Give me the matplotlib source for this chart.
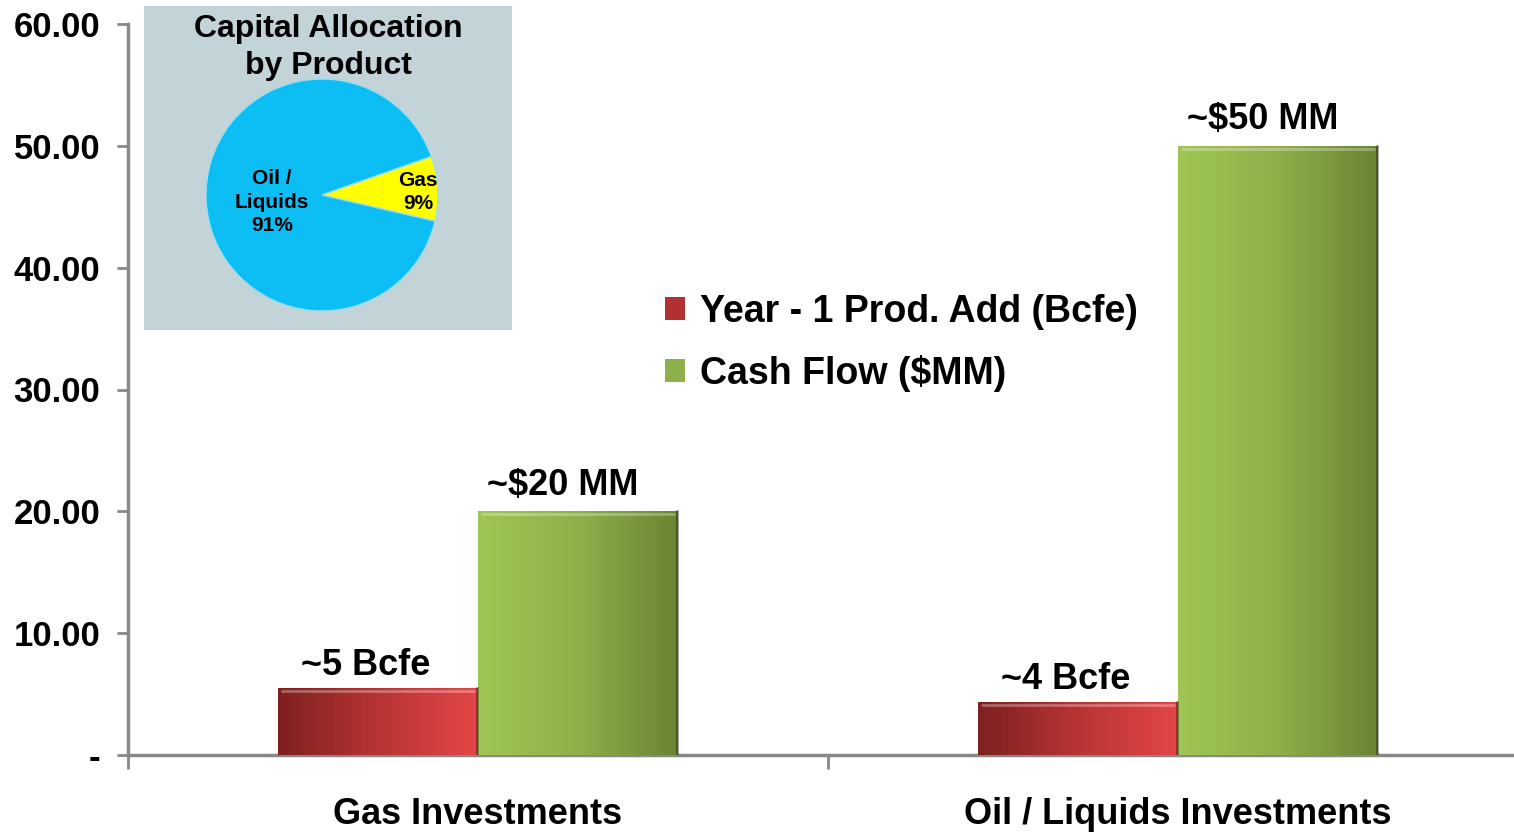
import matplotlib
matplotlib.use("Agg")
import matplotlib.pyplot as plt
import numpy as np
from matplotlib.colors import LinearSegmentedColormap
from matplotlib.patches import Patch

plt.rcParams['font.family'] = ['Liberation Sans', 'DejaVu Sans']
plt.rcParams['font.weight'] = 'bold'

# ---- data ----
categories = ["Gas Investments", "Oil / Liquids Investments"]
series_names = ["Year - 1 Prod. Add (Bcfe)", "Cash Flow ($MM)"]
prod_add = [5.5, 4.35]
cash_flow = [20.0, 50.0]
prod_labels = ["~5 Bcfe", "~4 Bcfe"]
cash_labels = ["~$20 MM", "~$50 MM"]
yticks = [0, 10, 20, 30, 40, 50, 60]
ytick_labels = ["-", "10.00", "20.00", "30.00", "40.00", "50.00", "60.00"]

pie_labels = ["Gas\n9%", "Oil /\nLiquids\n91%"]
pie_values = [9, 91]
pie_title = "Capital Allocation\nby Product"

W, H = 1514, 834
fig = plt.figure(figsize=(W / 100, H / 100), dpi=100)
fig.patch.set_facecolor('white')

ax = fig.add_axes([128 / W, (H - 755) / H, (1514 - 128) / W, (755 - 24) / H])
x = np.arange(len(categories))
bw = 0.2857
red_cmap = LinearSegmentedColormap.from_list("r", ["#7E2020", "#B83434", "#E34646"])
green_cmap = LinearSegmentedColormap.from_list("g", ["#A0C655", "#8EB04A", "#6A8432"])

b1 = ax.bar(x - bw / 2, prod_add, bw, color="#C03838", zorder=2)
b2 = ax.bar(x + bw / 2, cash_flow, bw, color="#8BAE48", zorder=2)

grad = np.linspace(0, 1, 256).reshape(1, -1)
for bars, cmap in ((b1, red_cmap), (b2, green_cmap)):
    for p in bars:
        x0, y0 = p.get_x(), p.get_y()
        w, h = p.get_width(), p.get_height()
        im = ax.imshow(grad, cmap=cmap, aspect='auto', extent=(x0, x0 + w, y0, y0 + h), zorder=3)
        im.set_clip_path(p)
        ax.plot([x0 + 0.004, x0 + w - 0.004], [y0 + h - 0.25, y0 + h - 0.25],
                color='white', alpha=0.3, lw=2, zorder=4, solid_capstyle='butt')
        ax.plot([x0 + w - 0.002, x0 + w - 0.002], [y0, y0 + h],
                color='black', alpha=0.35, lw=2, zorder=4)

for xi, v, lab in zip(x - bw / 2, prod_add, prod_labels):
    ax.text(xi - 0.017, v + 0.4, lab, ha='center', va='bottom', fontsize=26, fontweight='bold')
for xi, v, lab in zip(x + bw / 2, cash_flow, cash_labels):
    ax.text(xi - 0.022, v + 0.7, lab, ha='center', va='bottom', fontsize=26, fontweight='bold')

ax.set_xlim(-0.5, 1.48)
ax.set_ylim(0, 60)
ax.set_yticks(yticks)
ax.set_yticklabels(ytick_labels, fontsize=25, fontweight='bold')
ax.set_xticks(x)
ax.set_xticklabels(categories, fontsize=26, fontweight='bold')
ax.tick_params(axis='x', which='major', length=0, pad=43)
ax.set_xticks([-0.5, 0.5], minor=True)
ax.tick_params(axis='x', which='minor', length=10, color='#888888', width=2)
ax.tick_params(axis='y', length=8, color='#888888', width=2, pad=12)
for s in ('top', 'right'):
    ax.spines[s].set_visible(False)
for s in ('left', 'bottom'):
    ax.spines[s].set_color('#888888')
    ax.spines[s].set_linewidth(2.5)
ax.spines['left'].set_bounds(0, 60)
for t in ax.get_xticklabels():
    t.set_verticalalignment('center')

handles = [Patch(facecolor="#B23030", edgecolor='none'), Patch(facecolor="#8DB04A", edgecolor='none')]
leg = fig.legend(handles, series_names, loc='upper left', bbox_to_anchor=(631 / W, 1 - 260 / H),
                 frameon=False, prop={'size': 27, 'weight': 'bold'},
                 handlelength=0.55, handleheight=0.55, handletextpad=0.4, labelspacing=0.66)

# ---- inset pie ----
iw, ih = 512 - 144, 330 - 6
iax = fig.add_axes([144 / W, (H - 330) / H, iw / W, ih / H])
iax.set_facecolor('#C2D4D7')
wedges, _ = iax.pie(pie_values, colors=['#FFFF00', '#0DBEF5'], startangle=-13,
                    center=(178, 135), radius=116, frame=True,
                    wedgeprops=dict(edgecolor='#9FDDF0', linewidth=1.0))
iax.set_xlim(0, iw)
iax.set_ylim(0, ih)
iax.set_aspect('auto')
iax.set_xticks([])
iax.set_yticks([])
for s in iax.spines.values():
    s.set_visible(False)
iax.text(iw / 2 + 0, ih - 8, pie_title, ha='center', va='top', fontsize=23, fontweight='bold', linespacing=1.3)
iax.text(128, 128, pie_labels[1], ha='center', va='center', fontsize=15, fontweight='bold', linespacing=1.3)
iax.text(274, 138, pie_labels[0], ha='center', va='center', fontsize=15, fontweight='bold', linespacing=1.3)

fig.savefig("out.png", dpi=100)
